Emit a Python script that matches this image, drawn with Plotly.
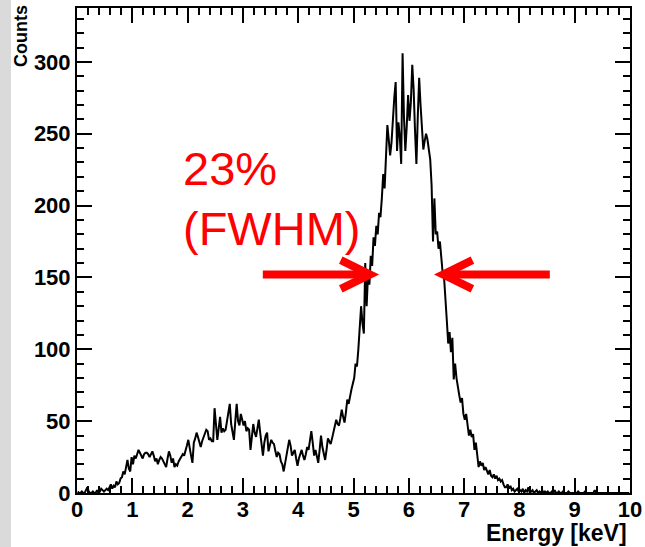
import plotly.graph_objects as go

# Histogram: energy bins of 0.025 keV from 0 to 10 keV
bin_width = 0.025
counts = [
    1, 0, 0, 1, 0, 0, 2, 4, 1, 0,
    0, 1, 0, 0, 2, 0, 1, 3, 2, 1,
    2, 3, 2, 4, 6, 3, 5, 4, 8, 6,
    7, 10, 11, 15, 13, 18, 23, 17, 15, 25,
    20, 26, 24, 27, 30, 28, 26, 24, 27, 28,
    28, 27, 25, 27, 29, 26, 22, 24, 20, 23,
    25, 24, 22, 20, 18, 24, 29, 26, 21, 24,
    18, 20, 19, 22, 24, 25, 27, 26, 29, 33,
    37, 30, 26, 21, 35, 38, 42, 39, 35, 32,
    36, 39, 41, 44, 43, 37, 38, 36, 36, 59,
    48, 37, 45, 53, 42, 45, 43, 44, 50, 56,
    62, 48, 42, 37, 50, 62, 50, 47, 55, 50,
    47, 50, 43, 45, 44, 30, 42, 48, 42, 39,
    45, 51, 42, 33, 26, 35, 40, 42, 29, 33,
    37, 35, 34, 29, 25, 28, 27, 22, 20, 15,
    20, 26, 30, 37, 33, 26, 28, 30, 24, 19,
    24, 28, 30, 26, 23, 27, 32, 30, 36, 43,
    35, 26, 30, 24, 21, 30, 40, 32, 27, 23,
    30, 38, 36, 34, 38, 42, 45, 51, 48, 47,
    52, 58, 53, 49, 56, 65, 62, 68, 72, 76,
    80, 90, 88, 100, 112, 130, 118, 111, 160, 130,
    152, 145, 165, 158, 178, 172, 186, 180, 195, 192,
    205, 222, 212, 238, 256, 246, 235, 244, 262, 275,
    286, 238, 258, 248, 229, 306, 262, 238, 255, 277,
    259, 272, 298, 281, 252, 229, 262, 289, 270, 255,
    239, 245, 250, 246, 239, 232, 214, 175, 205, 180,
    182, 170, 175, 160, 153, 150, 138, 120, 104, 112,
    98, 108, 79, 90, 80, 72, 68, 63, 66, 55,
    51, 55, 45, 40, 44, 39, 41, 30, 35, 25,
    18, 22, 19, 21, 16, 18, 15, 13, 16, 12,
    11, 13, 10, 12, 9, 10, 8, 9, 6, 4,
    4, 6, 3, 5, 2, 3, 1, 2, 3, 1,
    2, 1, 3, 0, 2, 1, 4, 0, 1, 2,
    0, 1, 2, 0, 1, 0, 2, 0, 1, 0,
    1, 0, 0, 1, 0, 2, 0, 0, 1, 0,
    0, 1, 0, 0, 0, 1, 0, 0, 0, 0,
    0, 0, 1, 0, 0, 0, 0, 1, 0, 0,
    0, 0, 0, 0, 2, 0, 0, 0, 0, 0,
    0, 0, 0, 0, 0, 0, 0, 0, 0, 0,
    0, 0, 0, 0, 0, 0, 0, 0, 0, 0,
]
energy = [bin_width * (i + 0.5) for i in range(len(counts))]

# Axis ticks
x_tickvals = [0, 1, 2, 3, 4, 5, 6, 7, 8, 9, 10]
x_ticktext = ["0", "1", "2", "3", "4", "5", "6", "7", "8", "9", "10"]
y_tickvals = [0, 50, 100, 150, 200, 250, 300]
y_ticktext = ["0", "50", "100", "150", "200", "250", "300"]

# FWHM markers (keV) and half-maximum level (counts)
fwhm_left = 5.30
fwhm_right = 6.62
half_max = 152
arrow_tail_left = 3.36
arrow_tail_right = 8.55
fwhm_text = ["23%", "(FWHM)"]

x_range = [0, 10]
y_range = [0, 337.5]

fig = go.Figure()
fig.add_trace(go.Scatter(
    x=energy, y=counts, mode="lines",
    line=dict(color="black", width=2),
    hoverinfo="skip", showlegend=False,
))

RED = "#ff0000"
head_dx = 0.53
head_dy = 10
shapes = []
# left arrow (points right)
shapes.append(dict(type="line", xref="x", yref="y", x0=arrow_tail_left, x1=fwhm_left - 0.05,
                   y0=half_max, y1=half_max, line=dict(color=RED, width=8)))
shapes.append(dict(type="path", xref="x", yref="y",
                   path=f"M {fwhm_left - head_dx} {half_max + head_dy} L {fwhm_left} {half_max} L {fwhm_left - head_dx} {half_max - head_dy}",
                   line=dict(color=RED, width=8)))
# right arrow (points left)
shapes.append(dict(type="line", xref="x", yref="y", x0=fwhm_right + 0.05, x1=arrow_tail_right,
                   y0=half_max, y1=half_max, line=dict(color=RED, width=8)))
shapes.append(dict(type="path", xref="x", yref="y",
                   path=f"M {fwhm_right + head_dx} {half_max + head_dy} L {fwhm_right} {half_max} L {fwhm_right + head_dx} {half_max - head_dy}",
                   line=dict(color=RED, width=8)))
# marbled grey strip at the far left of the picture
shapes.append(dict(type="rect", xref="paper", yref="paper", x0=-77 / 553, x1=-66 / 553,
                   y0=-54 / 485, y1=1 + 8 / 485, fillcolor="#dadada", line=dict(width=0), layer="below"))

fig.update_layout(shapes=shapes)

FONT = "Liberation Sans, Arial, Helvetica, sans-serif"
axis_common = dict(
    showline=True, linecolor="black", linewidth=2, mirror="ticks",
    ticks="inside", tickcolor="black", tickwidth=1.5, ticklen=15,
    showgrid=False, zeroline=False, automargin=False,
    tickfont=dict(family=FONT, size=22, color="black"),
)
fig.update_xaxes(range=x_range, tickmode="array", tickvals=x_tickvals,
                 ticktext=[f"<b>{t}</b>" for t in x_ticktext], ticklabelstandoff=-4,
                 minor=dict(ticks="inside", dtick=0.2, tick0=0, ticklen=7, tickcolor="black", tickwidth=1.5),
                 **axis_common)
fig.update_yaxes(range=y_range, tickmode="array", tickvals=y_tickvals,
                 ticktext=[f"<b>{t}</b>" for t in y_ticktext],
                 minor=dict(ticks="inside", dtick=10, tick0=0, ticklen=7, tickcolor="black", tickwidth=1.5),
                 **axis_common)

annotations = [
    dict(text="<b>Counts</b>", xref="paper", yref="paper", x=(21 - 77) / 553, y=(493 - 3) / 485,
         xanchor="center", yanchor="top", textangle=-90, showarrow=False,
         font=dict(family=FONT, size=18, color="black")),
    dict(text="<b>Energy [keV]</b>", xref="paper", yref="paper", x=(629 - 77) / 553, y=(493 - 533) / 485,
         xanchor="right", yanchor="middle", showarrow=False,
         font=dict(family=FONT, size=23, color="black")),
    dict(text=fwhm_text[0], xref="paper", yref="paper", x=(181 - 77) / 553, y=(493 - 168) / 485,
         xanchor="left", yanchor="middle", showarrow=False,
         font=dict(family=FONT, size=47, color=RED)),
    dict(text=fwhm_text[1], xref="paper", yref="paper", x=(181 - 77) / 553, y=(493 - 228) / 485,
         xanchor="left", yanchor="middle", showarrow=False,
         font=dict(family=FONT, size=47, color=RED)),
]

fig.update_layout(
    width=645, height=547,
    margin=dict(l=77, r=15, t=8, b=54),
    paper_bgcolor="white", plot_bgcolor="white",
    annotations=annotations,
    showlegend=False,
)

fig.write_html("out.html", config={"displayModeBar": False},
               post_script="document.body.style.margin='0';document.body.style.overflow='hidden';")
